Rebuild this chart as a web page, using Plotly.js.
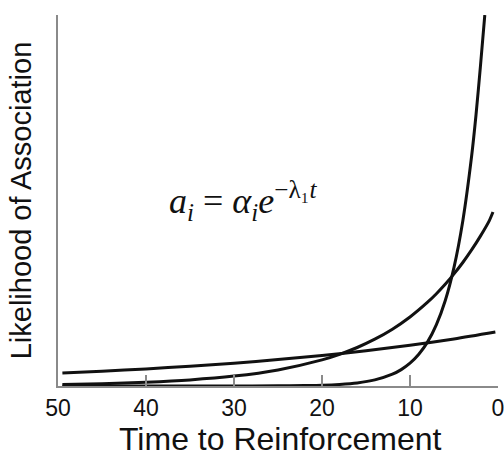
<!DOCTYPE html>
<html>
<head>
<meta charset="utf-8">
<script src="https://cdn.plot.ly/plotly-3.0.1.min.js"></script>
<style>
html, body { margin: 0; padding: 0; background: #fff; }
#chart { width: 504px; height: 458px; }
</style>
</head>
<body>
<div id="chart"></div>
<script>
// Slow-decay curve (nearly straight line)
const tSlow = [49.5, 45, 40, 35, 30, 25, 20, 15, 10, 5, 0.3];
const aSlow = [13.0, 14.8, 17.1, 19.8, 22.8, 26.4, 30.5, 35.3, 40.8, 47.1, 54.0];

// Medium-decay curve
const tMid = [49.5, 45, 40, 35, 30, 25, 20, 18, 16, 14, 12, 10, 8, 7, 6, 5, 4, 3, 2, 1, 0.57];
const aMid = [1.5, 2.3, 3.8, 6.1, 9.9, 16.1, 26.1, 31.7, 38.5, 46.8, 56.8, 69.0, 83.8, 92.3, 101.7, 112.1, 123.5, 136.1, 149.9, 165.2, 174.0];

// Fast-decay curve (steep)
const tFast = [49.5, 40, 30, 25, 22, 20, 18, 16, 14, 12, 11, 10, 9, 8, 7, 6, 5, 4, 3, 2.5, 2, 1.5];
const aFast = [0, 0, 0, 0.2, 0.5, 0.8, 1.6, 3.1, 6.1, 11.8, 16.4, 22.8, 31.7, 44.1, 61.4, 85.3, 118.7, 165.1, 229.7, 271, 319.4, 371];

const xTickVals = [50, 40, 30, 20, 10, 0];
const xTickText = ["50", "40", "30", "20", "10", "0"];

const xTitle = "Time to Reinforcement";
const yTitle = "Likelihood of Association";
const equation = "<i>a</i><sub><i>i</i></sub> = <i>α</i><sub><i>i</i></sub><i>e</i><sup>−λ₁<i>t</i></sup>";

const lineStyle = { color: "#111111", width: 3, shape: "spline", smoothing: 0.8 };

const traces = [
  { x: tSlow, y: aSlow, mode: "lines", line: lineStyle, hoverinfo: "skip" },
  { x: tMid, y: aMid, mode: "lines", line: lineStyle, hoverinfo: "skip" },
  { x: tFast, y: aFast, mode: "lines", line: lineStyle, hoverinfo: "skip" }
];

const layout = {
  width: 504,
  height: 458,
  margin: { l: 58, r: 6, t: 15, b: 72 },
  paper_bgcolor: "#ffffff",
  plot_bgcolor: "#ffffff",
  showlegend: false,
  font: { family: "Liberation Sans, Arial, sans-serif", color: "#111111" },
  xaxis: {
    range: [50, 0],
    tickvals: xTickVals,
    ticktext: xTickText,
    ticks: "inside",
    ticklen: 11,
    tickwidth: 1.5,
    tickcolor: "#8a8a8a",
    ticklabeloverflow: "allow",
    showline: true,
    linecolor: "#8a8a8a",
    linewidth: 2,
    showgrid: false,
    zeroline: false,
    tickfont: { size: 23, color: "#111111" },
    automargin: false,
    fixedrange: true
  },
  yaxis: {
    range: [0, 371],
    showticklabels: false,
    ticks: "",
    showline: true,
    linecolor: "#8a8a8a",
    linewidth: 2,
    showgrid: false,
    zeroline: false,
    title: { text: yTitle, font: { size: 29, color: "#111111" }, standoff: 16 },
    automargin: false,
    fixedrange: true
  },
  annotations: [
    {
      text: xTitle,
      xref: "paper", yref: "paper",
      x: 0.506, y: -0.142,
      xanchor: "center", yanchor: "middle",
      showarrow: false,
      font: { family: "Liberation Sans, Arial, sans-serif", size: 32, color: "#111111" }
    },
    {
      text: equation,
      xref: "paper", yref: "paper",
      x: 0.248, y: 0.5,
      xanchor: "left", yanchor: "middle",
      showarrow: false,
      font: { family: "Liberation Serif, Times New Roman, serif", size: 36, color: "#111111" }
    }
  ]
};

Plotly.newPlot("chart", traces, layout, { staticPlot: true, displayModeBar: false });
</script>
</body>
</html>
